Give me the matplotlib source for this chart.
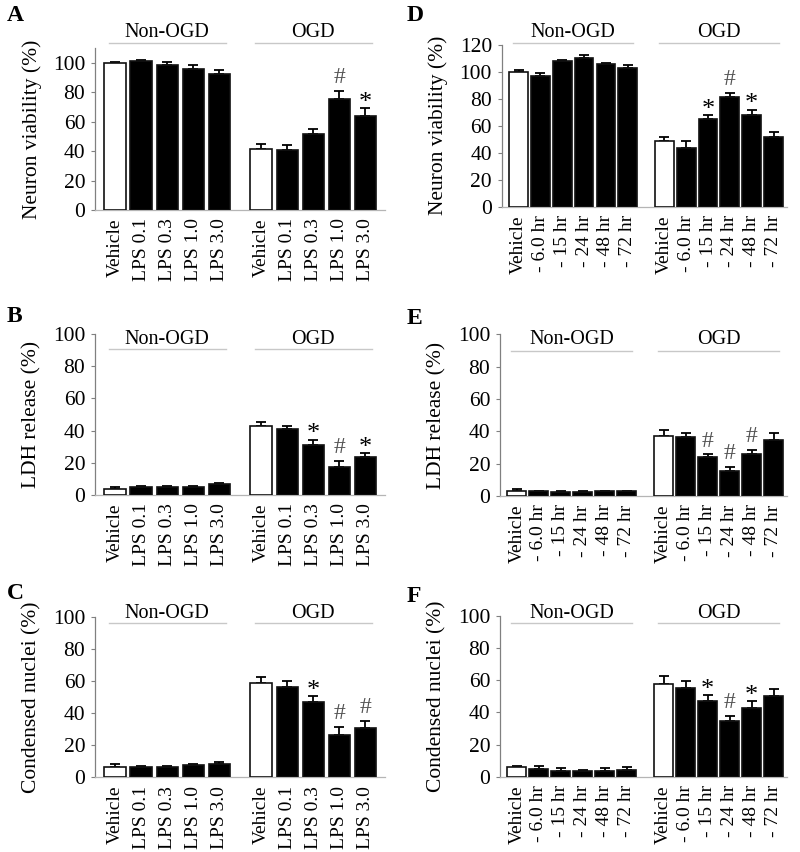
import matplotlib
matplotlib.use("Agg")
import matplotlib.pyplot as plt
import numpy as np

plt.rcParams['font.family'] = ['Liberation Serif', 'DejaVu Serif']

# ---------------- data ----------------
lps_labels = ['Vehicle', 'LPS 0.1', 'LPS 0.3', 'LPS 1.0', 'LPS 3.0']
time_labels = ['Vehicle', '- 6.0 hr', '- 15 hr', '- 24 hr', '- 48 hr', '- 72 hr']
group_names = ['Non-OGD', 'OGD']

A_non = [100.0, 101.1, 98.9, 95.9, 92.6]
A_non_err = [0.5, 1.1, 1.6, 2.5, 2.4]
A_ogd = [41.8, 40.9, 51.5, 75.4, 63.9]
A_ogd_err = [3.4, 3.4, 3.4, 5.4, 5.2]
A_sig = ['', '', '', '#', '*']

B_non = [3.7, 4.8, 4.8, 4.8, 6.4]
B_non_err = [1.0, 0.6, 0.6, 0.5, 1.0]
B_ogd = [43.0, 40.7, 31.0, 17.5, 23.5]
B_ogd_err = [2.1, 2.3, 3.3, 3.7, 2.5]
B_sig = ['', '', '*', '#', '*']

C_non = [6.6, 6.4, 6.4, 7.5, 8.5]
C_non_err = [1.9, 0.6, 0.5, 0.8, 0.8]
C_ogd = [58.5, 56.4, 47.1, 26.5, 30.7]
C_ogd_err = [4.1, 3.7, 3.5, 4.8, 4.5]
C_sig = ['', '', '*', '#', '#']

D_non = [99.8, 96.8, 107.7, 110.2, 105.5, 103.0]
D_non_err = [1.7, 2.2, 0.7, 2.0, 0.7, 1.7]
D_ogd = [48.3, 43.6, 64.8, 81.3, 68.0, 51.5]
D_ogd_err = [3.2, 4.7, 3.0, 3.0, 3.7, 3.7]
D_sig = ['', '', '*', '#', '*', '']

E_non = [3.3, 3.1, 2.7, 2.7, 2.9, 3.1]
E_non_err = [1.0, 0.3, 0.4, 0.1, 0.4, 0.2]
E_ogd = [37.3, 36.5, 24.1, 15.5, 25.8, 34.8]
E_ogd_err = [3.3, 2.3, 1.7, 2.4, 2.7, 4.0]
E_sig = ['', '', '#', '#', '#', '']

F_non = [5.8, 5.0, 3.5, 3.5, 3.5, 4.3]
F_non_err = [1.0, 1.9, 1.7, 0.6, 1.7, 1.7]
F_ogd = [57.6, 55.1, 47.2, 34.4, 42.9, 50.3]
F_ogd_err = [4.9, 4.2, 3.3, 3.3, 3.9, 4.0]
F_sig = ['', '', '*', '#', '*', '']

ylabels = {'A': 'Neuron viability (%)', 'B': 'LDH release (%)', 'C': 'Condensed nuclei (%)',
           'D': 'Neuron viability (%)', 'E': 'LDH release (%)', 'F': 'Condensed nuclei (%)'}

panels = {
    'A': (lps_labels, A_non, A_non_err, A_ogd, A_ogd_err, A_sig),
    'B': (lps_labels, B_non, B_non_err, B_ogd, B_ogd_err, B_sig),
    'C': (lps_labels, C_non, C_non_err, C_ogd, C_ogd_err, C_sig),
    'D': (time_labels, D_non, D_non_err, D_ogd, D_ogd_err, D_sig),
    'E': (time_labels, E_non, E_non_err, E_ogd, E_ogd_err, E_sig),
    'F': (time_labels, F_non, F_non_err, F_ogd, F_ogd_err, F_sig),
}

# ---------------- layout (pixels) ----------------
W, H = 800, 852
layout = {
    'A': dict(box=(95, 385, 210, 48.3), ymax=110, yticks=range(0, 101, 20), hl=113.6, ht=117.5, letter=(7, 5)),
    'B': dict(box=(95, 385, 494.7, 334.3), ymax=100, yticks=range(0, 101, 20), hl=90.9, ht=94.2, letter=(7, 306)),
    'C': dict(box=(95, 385, 777.3, 616.7), ymax=100, yticks=range(0, 101, 20), hl=95.9, ht=99.4, letter=(7, 583)),
    'D': dict(box=(501.7, 786.7, 206.7, 44.7), ymax=120, yticks=range(0, 121, 20), hl=121.3, ht=125.5, letter=(407, 5)),
    'E': dict(box=(500, 786.7, 496, 334.3), ymax=100, yticks=range(0, 101, 20), hl=89.9, ht=94.0, letter=(407, 308)),
    'F': dict(box=(500, 786.7, 776.7, 615.7), ymax=100, yticks=range(0, 101, 20), hl=95.3, ht=98.8, letter=(407, 586)),
}

fig = plt.figure(figsize=(W / 100, H / 100), dpi=100)

for key, (labels, non, non_err, ogd, ogd_err, sig) in panels.items():
    lay = layout[key]
    l, r, b, t = lay['box']
    ax = fig.add_axes([l / W, 1 - b / H, (r - l) / W, (b - t) / H])
    n = len(labels)
    if n == 5:
        gap, width, xl, xr = 1.6, 0.82, -0.77, 10.35
    else:
        gap, width, xl, xr = 1.67, 0.86, -0.77, 12.27
    x_non = np.arange(n)
    x_ogd = np.arange(n) + n - 1 + gap
    xs = np.concatenate([x_non, x_ogd])
    vals = np.array(non + ogd)
    errs = np.array(non_err + ogd_err)
    colors = ['white' if lab == 'Vehicle' else 'black' for lab in labels] * 2
    ax.errorbar(xs, vals, yerr=[np.zeros_like(errs), errs], fmt='none', ecolor='black',
                elinewidth=1.3, capsize=3.6, capthick=1.3, zorder=2)
    ax.bar(xs, vals, width=width, color=colors, edgecolor='#111111', linewidth=1.2, zorder=3)

    # significance marks
    sig_all = [''] * n + sig
    for xi, v, e, s in zip(xs, vals, errs, sig_all):
        if s:
            if s == '*':
                ax.annotate(s, (xi, v + e), xytext=(0, -4), textcoords='offset points',
                            ha='center', va='bottom', fontsize=19, color='black')
            else:
                ax.annotate(s, (xi, v + e), xytext=(0, 2), textcoords='offset points',
                            ha='center', va='bottom', fontsize=17, color='#555555')

    # group headers
    for xg, name in zip([x_non, x_ogd], group_names):
        ax.plot([xg[0] - 0.25, xg[-1] + 0.25], [lay['hl'], lay['hl']], color='#c8c8c8',
                linewidth=1.0, clip_on=False, zorder=1)
        ax.text((xg[0] + xg[-1]) / 2, lay['ht'], name, ha='center', va='baseline',
                fontsize=14.5, clip_on=False)

    ax.set_xlim(xl, xr)
    ax.set_ylim(0, lay['ymax'])
    ax.set_yticks(list(lay['yticks']))
    ax.set_xticks(xs)
    ax.set_xticklabels(labels * 2, rotation=90, fontsize=14, va='top', ha='center')
    ax.tick_params(axis='x', length=0, pad=6)
    ax.tick_params(axis='y', direction='out', length=3, width=0.8, color='#808080',
                   labelsize=15.5, pad=4)
    for sp in ['top', 'right']:
        ax.spines[sp].set_visible(False)
    ax.spines['left'].set_color('#808080')
    ax.spines['left'].set_linewidth(0.9)
    ax.spines['bottom'].set_color('#b5b5b5')
    ax.spines['bottom'].set_linewidth(0.9)
    ax.set_ylabel(ylabels[key], fontsize=15.5, labelpad=8)

    lx, ly = lay['letter']
    fig.text(lx / W, 1 - ly / H, key, ha='left', va='top', fontsize=17, fontweight='bold')

fig.savefig('out.png', dpi=100)
